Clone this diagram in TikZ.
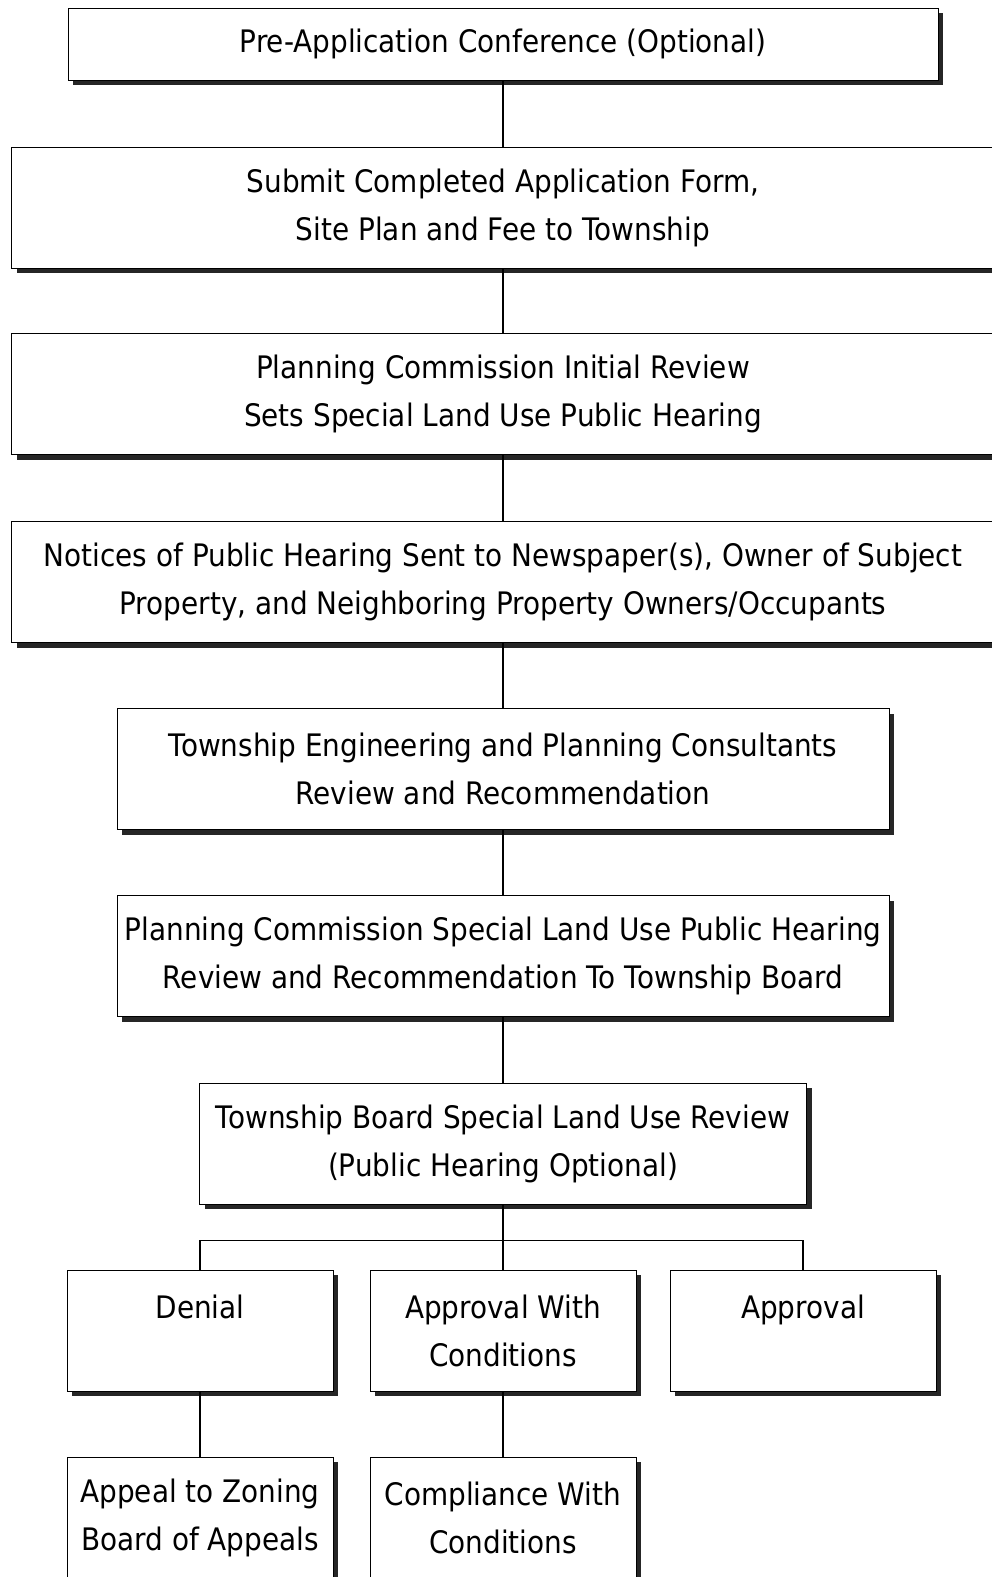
\documentclass[tikz,border=0pt]{standalone}
\usepackage{fontspec}
\setmainfont[FakeStretch=0.9]{DejaVu Sans}
\usepackage{tikz}
\usetikzlibrary{positioning, shadows, calc}

\begin{document}
\begin{tikzpicture}[x=1pt, y=-1pt, semithick,
  stagebox/.style={draw, fill=white, line width=1pt, inner sep=0pt, align=center,
    font=\fontsize{31}{48}\selectfont,
    drop shadow={shadow xshift=5pt, shadow yshift=-5pt, fill=black!85, opacity=1}},
  wide/.style={stagebox, minimum width=983pt, minimum height=121pt},
  mid/.style={stagebox, minimum width=772pt, minimum height=121pt},
  outcome/.style={stagebox, minimum width=266pt, minimum height=121pt},
  link/.style={line width=1.4pt}]
  \clip (0,0) rectangle (992,1577);
  \fill[white] (0,0) rectangle (992,1577);

  \node[stagebox, minimum width=870pt, minimum height=72pt] (preapp) at (503,44) {Pre-Application Conference (Optional)};
  \node[wide] (submit) at (503,207.5) {Submit Completed Application Form,\\ Site Plan and Fee to Township};
  \node[wide] (initrev) at (503,394) {Planning Commission Initial Review\\ Sets Special Land Use Public Hearing};
  \node[wide] (notices) at (503,582) {Notices of Public Hearing Sent to Newspaper(s), Owner of Subject\\ Property, and Neighboring Property Owners/Occupants};
  \node[mid] (consult) at (503,769) {Township Engineering and Planning Consultants\\ Review and Recommendation};
  \node[mid] (hearing) at (503,956) {Planning Commission Special Land Use Public Hearing\\ Review and Recommendation To Township Board};
  \node[stagebox, minimum width=607pt, minimum height=121pt] (board) at (503,1143.5) {Township Board Special Land Use Review\\ (Public Hearing Optional)};

  % outcomes
  \node[outcome] (denial) at (200,1330.5) {Denial\\ \mbox{}};
  \node[outcome] (apprcond) at (503,1330.5) {Approval With\\ Conditions};
  \node[outcome] (approval) at (803,1330.5) {Approval\\ \mbox{}};
  \node[outcome] (appeal) at (200,1517.5) {Appeal to Zoning\\ Board of Appeals};
  \node[outcome] (comply) at (503,1517.5) {Compliance With\\ Conditions};

  \draw[link] (preapp) -- (submit)
    (submit) -- (initrev)
    (initrev) -- (notices)
    (notices) -- (consult)
    (consult) -- (hearing)
    (hearing) -- (board);
  \draw[link] (board.south) -- ($(board.south)+(0,36)$) coordinate (split);
  \draw[link] (denial.north) |- (split) -| (approval.north);
  \draw[link] (split) -- (apprcond.north);
  \draw[link] (denial) -- (appeal);
  \draw[link] (apprcond) -- (comply);
\end{tikzpicture}
\end{document}
